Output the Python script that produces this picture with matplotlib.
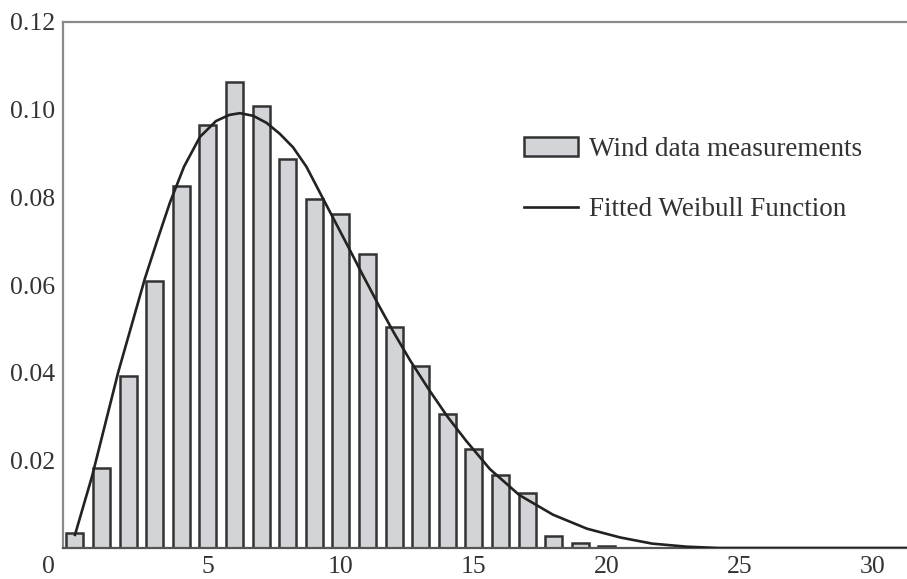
import numpy as np
import matplotlib
matplotlib.use("Agg")
import matplotlib.pyplot as plt
import matplotlib.transforms as mtransforms

plt.rcParams['font.family'] = ['Liberation Serif', 'DejaVu Serif']

# histogram of measured wind speeds (relative frequency per 1 m/s bin)
speeds = list(range(21))
freq = [0.0034, 0.0183, 0.0392, 0.0609, 0.0825, 0.0965, 0.1063, 0.1008,
        0.0887, 0.0797, 0.0763, 0.0671, 0.0505, 0.0415, 0.0305, 0.0226,
        0.0166, 0.0126, 0.0027, 0.0012, 0.0005]

# fitted curve, points
curve_x = [0.0, 0.64, 1.63, 2.63, 3.1, 3.57, 4.1, 4.7, 5.3, 5.8, 6.2, 6.7,
           7.2, 7.7, 8.2, 8.7, 9.3, 9.8, 10.3, 10.8, 11.4, 12.0, 12.6,
           13.3, 14.0, 14.7, 15.6, 16.7, 17.97, 19.25, 20.5, 21.7, 23.0,
           24.2, 31.5]
curve_y = [0.003, 0.0163, 0.0402, 0.0615, 0.0703, 0.0788, 0.0870, 0.0938,
           0.0974, 0.0988, 0.0992, 0.0986, 0.0970, 0.0945, 0.0914, 0.0870,
           0.0800, 0.0742, 0.0684, 0.0625, 0.0556, 0.0490, 0.0428, 0.0362,
           0.0300, 0.0245, 0.0180, 0.0121, 0.0076, 0.0044, 0.0024, 0.0010,
           0.0003, 0.0, 0.0]

xticks = [0, 5, 10, 15, 20, 25, 30]
yticks = [0.02, 0.04, 0.06, 0.08, 0.10, 0.12]
ylabels = ["0.02", "0.04", "0.06", "0.08", "0.10", "0.12"]

fig = plt.figure(figsize=(9.07, 5.79), dpi=100)
ax = fig.add_axes([63/907, 31/579, 1 - 63/907, (548-22)/579])

bars = ax.bar(speeds, freq, width=0.64, color="#d3d4d7", edgecolor="#333333",
              linewidth=1.8, zorder=2)
line, = ax.plot(curve_x, curve_y, color="#222222", linewidth=1.9, zorder=3)

ax.set_xlim(-0.45, 31.28)
ax.set_ylim(0, 0.12)
ax.set_xticks(xticks)
ax.set_xticklabels([str(t) for t in xticks])
ax.set_yticks(yticks)
ax.set_yticklabels(ylabels)
ax.tick_params(length=0, labelsize=18.5, colors="#333333")
ax.tick_params(axis='x', pad=6)
ax.tick_params(axis='y', pad=6)

# origin label sits left of the first bar
lbl0 = ax.get_xticklabels()[0]
lbl0.set_transform(lbl0.get_transform() +
                   mtransforms.ScaledTranslation(-27/100, 0, fig.dpi_scale_trans))

for s in ["left", "top"]:
    ax.spines[s].set_color("#8a8a8a")
    ax.spines[s].set_linewidth(1.6)
ax.spines["bottom"].set_color("#555555")
ax.spines["bottom"].set_linewidth(1.6)
ax.spines["right"].set_visible(False)

ax.legend([bars, line], ["Wind data measurements", "Fitted Weibull Function"],
          loc="upper left", bbox_to_anchor=(513/907, 1 - 126/579),
          bbox_transform=fig.transFigure, frameon=False, fontsize=19.5,
          handlelength=2.0, handletextpad=0.4, labelspacing=1.3,
          borderaxespad=0, labelcolor="#333333")

fig.savefig("out.png", dpi=100)
